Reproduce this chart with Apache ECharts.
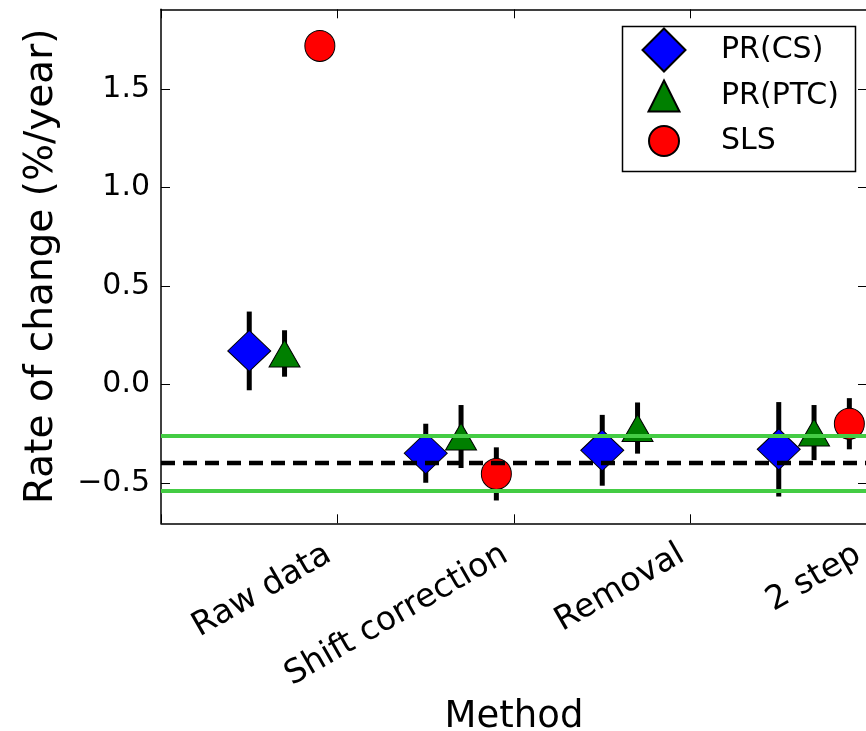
<!DOCTYPE html>
<html>
<head>
<meta charset="utf-8">
<script src="https://cdn.jsdelivr.net/npm/echarts@6/dist/echarts.min.js"></script>
<style>
html,body{margin:0;padding:0;background:#fff;}
#chart{width:866px;height:731px;}
</style>
</head>
<body>
<div id="chart"></div>
<script>
// ---- data ----
const categories = ['Raw data', 'Shift correction', 'Removal', '2 step'];
const catPositions = [1, 2, 3, 4];
const yTicks = [-0.5, 0.0, 0.5, 1.0, 1.5];
const seriesNames = ['PR(CS)', 'PR(PTC)', 'SLS'];
const seriesOffsets = [-0.5, -0.3, -0.1];
const prCS = [0.17, -0.35, -0.335, -0.33];
const prCSErr = [0.2, 0.15, 0.18, 0.24];
const prPTC = [0.157, -0.265, -0.222, -0.245];
const prPTCErr = [0.118, 0.16, 0.13, 0.14];
const sls = [1.72, -0.455, null, -0.2];
const slsErr = [0.04, 0.135, null, 0.13];
const refMean = -0.4;
const refBand = [-0.262, -0.542];
const xRange = [0, 4];
const yRange = [-0.706, 1.906];

// ---- build ----
const values = [prCS, prPTC, sls];
const errs = [prCSErr, prPTCErr, slsErr];
const colors = ['#0000ff', '#007f00', '#ff0000'];
const symbols = ['diamond', 'triangle', 'circle'];
const symbolSizes = [[43, 41], [31, 27], [30, 31]];
const FONT = 'DejaVu Sans';

function pts(k) {
  const out = [];
  values[k].forEach((v, i) => { if (v !== null) out.push([catPositions[i] + seriesOffsets[k], v]); });
  return out;
}
function errPts(k) {
  const out = [];
  values[k].forEach((v, i) => {
    if (v !== null) out.push([catPositions[i] + seriesOffsets[k], v - errs[k][i], v + errs[k][i]]);
  });
  return out;
}
function fmtY(v) {
  return (v < 0 ? '\u2212' : '') + Math.abs(v).toFixed(1);
}

const series = [];
for (let k = 0; k < 3; k++) {
  series.push({
    type: 'custom',
    name: seriesNames[k] + ' err',
    z: 2,
    silent: true,
    data: errPts(k),
    renderItem: function (params, api) {
      const x = api.value(0);
      const p1 = api.coord([x, api.value(1)]);
      const p2 = api.coord([x, api.value(2)]);
      return { type: 'line', shape: { x1: p1[0], y1: p1[1], x2: p2[0], y2: p2[1] },
        style: { stroke: '#000', lineWidth: 5 } };
    }
  });
}
for (let k = 0; k < 3; k++) {
  series.push({
    type: 'scatter',
    name: seriesNames[k],
    z: 3,
    symbol: symbols[k],
    symbolSize: symbolSizes[k],
    itemStyle: { color: colors[k], borderColor: '#000', borderWidth: 1, opacity: 1 },
    data: pts(k)
  });
}
const refLines = [
  { v: refBand[0], color: '#44cc44', type: 'solid', w: 4 },
  { v: refBand[1], color: '#44cc44', type: 'solid', w: 4 },
  { v: refMean, color: '#000000', type: [14, 8], w: 4.5 }
];
refLines.forEach((r, i) => {
  series.push({
    type: 'line',
    name: 'ref' + i,
    z: 5,
    silent: true,
    symbol: 'none',
    lineStyle: { color: r.color, width: r.w, type: r.type },
    data: [[xRange[0], r.v], [xRange[1], r.v]]
  });
});

const legendCX = 663, legendTextX = 720, legendRowY = [49, 95, 140];
const legends = [0, 1, 2].map(k => {
  const w = symbolSizes[k][0], h = symbolSizes[k][0];
  return {
    data: [seriesNames[k]],
    left: legendCX - w / 2,
    top: legendRowY[k] - h / 2,
    itemWidth: w,
    itemHeight: h,
    padding: 0,
    selectedMode: false,
    textStyle: { fontFamily: FONT, fontSize: 30, color: '#000',
      padding: [0, 0, 0, legendTextX - (legendCX - w / 2 + w + 5)] }
  };
});

const axisLine = { show: true, onZero: false, lineStyle: { color: '#000', width: 1.5 } };
const tick = { inside: true, length: 9, lineStyle: { color: '#000', width: 1 } };
const option = {
  backgroundColor: '#fff',
  animation: false,
  grid: { left: 161, top: 9.3, width: 706, height: 514, containLabel: false, outerBoundsMode: 'none' },
  legend: legends,
  graphic: [{
    type: 'rect', left: 620, top: 24, z: 100,
    shape: { width: 233, height: 145 },
    style: { fill: 'none', stroke: '#000', lineWidth: 1.5 }
  }],
  xAxis: [{
    type: 'value', position: 'bottom', min: xRange[0], max: xRange[1], interval: 1,
    axisLine: axisLine,
    axisTick: tick,
    splitLine: { show: false },
    axisLabel: {
      rotate: 30, margin: 24, padding: [0, 10, 0, 0], fontFamily: FONT, fontSize: 33, color: '#000',
      formatter: v => { const i = catPositions.indexOf(v); return i >= 0 ? categories[i] : ''; }
    },
    name: 'Method', nameLocation: 'middle', nameGap: 167,
    nameTextStyle: { fontFamily: FONT, fontSize: 37, color: '#000' }
  }, {
    type: 'value', position: 'top', min: xRange[0], max: xRange[1], interval: 1,
    axisLine: axisLine,
    axisTick: tick,
    axisLabel: { show: false }, splitLine: { show: false }
  }],
  yAxis: [{
    type: 'value', position: 'left', min: yRange[0], max: yRange[1],
    axisLine: axisLine,
    axisTick: Object.assign({ customValues: yTicks }, tick),
    splitLine: { show: false },
    axisLabel: { customValues: yTicks, margin: 11, fontFamily: FONT, fontSize: 30, color: '#000', formatter: fmtY },
    name: 'Rate of change (%/year)', nameLocation: 'middle', nameGap: 100,
    nameTextStyle: { fontFamily: FONT, fontSize: 39, color: '#000' }
  }, {
    type: 'value', position: 'right', min: yRange[0], max: yRange[1],
    axisLine: axisLine,
    axisTick: Object.assign({ customValues: yTicks }, tick),
    axisLabel: { show: false }, splitLine: { show: false }
  }],
  series: series
};
const chart = echarts.init(document.getElementById('chart'), null, { renderer: 'canvas' });
chart.setOption(option);
</script>
</body>
</html>
